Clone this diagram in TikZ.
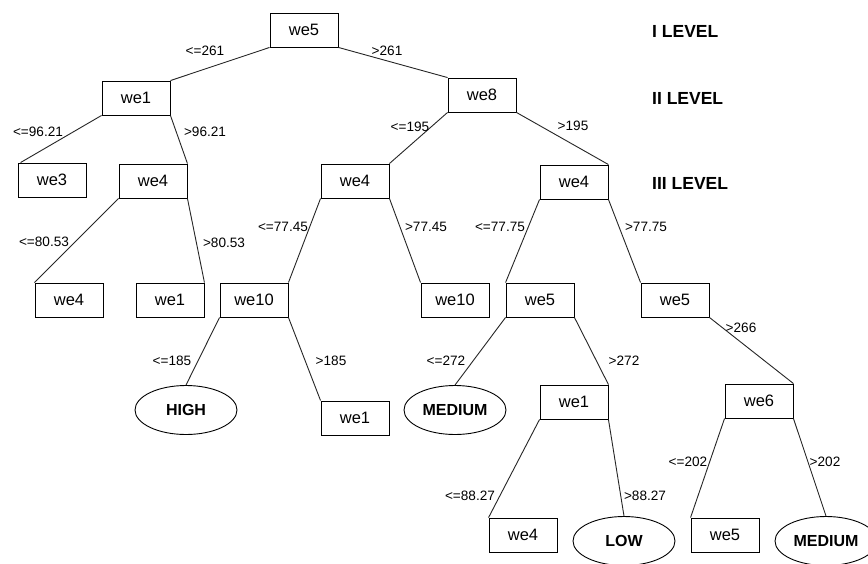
\documentclass[tikz,border=0pt]{standalone}
\usepackage{fontspec}
\setmainfont{Liberation Sans}
\usetikzlibrary{shapes.geometric}
\begin{document}
\begin{tikzpicture}[x=1pt,y=-1pt,
  box/.style={draw, line width=0.9pt, minimum width=68pt, minimum height=34pt, inner sep=0pt, font=\fontsize{16.5}{19}\selectfont},
  leaf/.style={draw, ellipse, line width=0.9pt, minimum width=102pt, minimum height=49pt, inner sep=0pt, font=\fontsize{16}{19}\selectfont\bfseries},
  lbl/.style={inner sep=0pt, font=\fontsize{13.6}{16}\selectfont},
  lvl/.style={inner sep=0pt, anchor=west, font=\fontsize{17.5}{20}\selectfont\bfseries},
  edge/.style={line width=0.9pt, draw=black!85}]
\useasboundingbox (0,0) rectangle (868,563);
\fill[white] (0,0) rectangle (868,563);
% nodes
\node[box] (a) at (304,30) {we5};
\node[box] (b) at (136,98) {we1};
\node[box] (c) at (482,95) {we8};
\node[box] (d) at (52,180) {we3};
\node[box] (e) at (153,181) {we4};
\node[box] (f) at (355,181) {we4};
\node[box] (g) at (574,182) {we4};
\node[box] (h) at (69,300) {we4};
\node[box] (i) at (170,300) {we1};
\node[box] (j) at (254,300) {we10};
\node[box] (k) at (455,300) {we10};
\node[box] (l) at (540,300) {we5};
\node[box] (m) at (675,300) {we5};
\node[leaf] (n) at (186,410) {HIGH};
\node[box] (o) at (355,418) {we1};
\node[leaf] (p) at (455,410) {MEDIUM};
\node[box] (q) at (574,402) {we1};
\node[box] (r) at (759,401) {we6};
\node[box] (s) at (523,535) {we4};
\node[leaf] (t) at (624,541) {LOW};
\node[box] (u) at (725,535) {we5};
\node[leaf] (v) at (826,541) {MEDIUM};
% level labels
\node[lvl] (l1) at (652,31) {I LEVEL};
\node[lvl] (l2) at (652,98) {II LEVEL};
\node[lvl] (l3) at (652,183) {III LEVEL};
% edges
\draw[edge] (a.south west) -- (b.north east);
\draw[edge] (a.south east) -- (c.north west);
\draw[edge] (b.south west) -- ([xshift=3pt]d.north west);
\draw[edge] (b.south east) -- (e.north east);
\draw[edge] (c.south west) -- (f.north east);
\draw[edge] (c.south east) -- (g.north east);
\draw[edge] (e.south west) -- (h.north west);
\draw[edge] (e.south east) -- (i.north east);
\draw[edge] (f.south west) -- (j.north east);
\draw[edge] (f.south east) -- (k.north west);
\draw[edge] (g.south west) -- (l.north west);
\draw[edge] (g.south east) -- (m.north west);
\draw[edge] (j.south west) -- (n.north);
\draw[edge] (j.south east) -- (o.north west);
\draw[edge] (l.south west) -- (p.north);
\draw[edge] (l.south east) -- (q.north east);
\draw[edge] (m.south east) -- (r.north east);
\draw[edge] (q.south west) -- (s.north west);
\draw[edge] (q.south east) -- (t.north);
\draw[edge] (r.south west) -- (u.north west);
\draw[edge] (r.south east) -- (v.north);
% edge labels
\node[lbl] (e1) at (205,51) {<=261};
\node[lbl] (e2) at (387,51) {>261};
\node[lbl] (e3) at (38,132) {<=96.21};
\node[lbl] (e4) at (205,132) {>96.21};
\node[lbl] (e5) at (410,127) {<=195};
\node[lbl] (e6) at (573,126) {>195};
\node[lbl] (e7) at (44,242) {<=80.53};
\node[lbl] (e8) at (224,243) {>80.53};
\node[lbl] (e9) at (283,227) {<=77.45};
\node[lbl] (e10) at (426,227) {>77.45};
\node[lbl] (e11) at (500,227) {<=77.75};
\node[lbl] (e12) at (646,227) {>77.75};
\node[lbl] (e13) at (741,328) {>266};
\node[lbl] (e14) at (172,361) {<=185};
\node[lbl] (e15) at (331,361) {>185};
\node[lbl] (e16) at (446,361) {<=272};
\node[lbl] (e17) at (624,361) {>272};
\node[lbl] (e18) at (688,462) {<=202};
\node[lbl] (e19) at (825,462) {>202};
\node[lbl] (e20) at (470,496) {<=88.27};
\node[lbl] (e21) at (645,496) {>88.27};
\end{tikzpicture}
\end{document}
